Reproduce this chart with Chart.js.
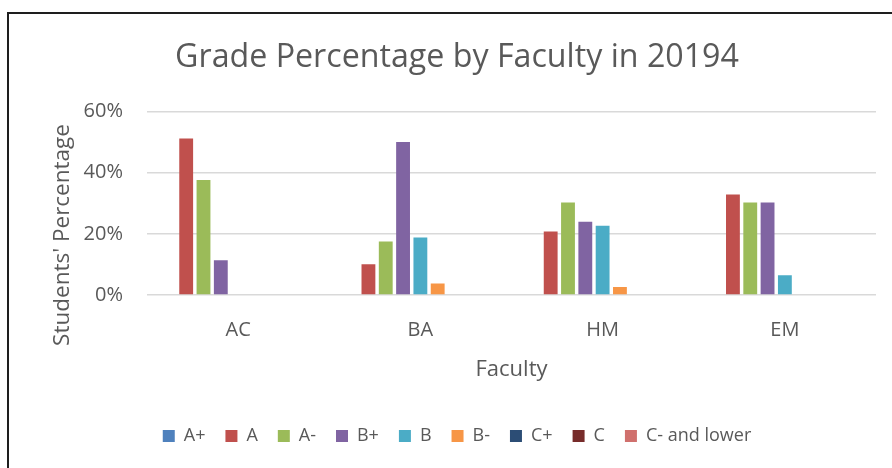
<!DOCTYPE html>
<html>
<head>
<meta charset="utf-8">
<script src="https://cdn.jsdelivr.net/npm/chart.js@4.4.0/dist/chart.umd.min.js"></script>
<style>
  html, body { margin: 0; padding: 0; background: #fff; overflow: hidden; }
  #page { position: relative; width: 892px; height: 468px; overflow: hidden; }
  #frame { position: absolute; left: 7px; top: 12px; width: 1000px; height: 600px;
           border-top: 2px solid #1e1e1e; border-left: 2px solid #1e1e1e; }
  #gradeChart { position: absolute; left: 9px; top: 14px; }
</style>
</head>
<body>
<div id="page">
  <div id="frame"></div>
  <canvas id="gradeChart" width="896" height="454"></canvas>
</div>
<script>
// data (percent of students)
const faculties = ['AC', 'BA', 'HM', 'EM'];
const grades = ['A+', 'A', 'A-', 'B+', 'B', 'B-', 'C+', 'C', 'C- and lower'];
const gradeColors = ['#4F81BD', '#C0504D', '#9BBB59', '#8064A2', '#4BACC6', '#F79646', '#2C4D75', '#772C2A', '#D0706D'];

const aPlus   = [0, 0, 0, 0];
const aGrade  = [51.2, 10.1, 20.8, 32.9];
const aMinus  = [37.6, 17.5, 30.3, 30.3];
const bPlus   = [11.4, 50.1, 24.0, 30.3];
const bGrade  = [0, 18.8, 22.7, 6.5];
const bMinus  = [0, 3.8, 2.6, 0];
const cPlus   = [0, 0, 0, 0];
const cGrade  = [0, 0, 0, 0];
const cMinus  = [0, 0, 0, 0];

const yTicks = [0, 20, 40, 60];

const seriesValues = [aPlus, aGrade, aMinus, bPlus, bGrade, bMinus, cPlus, cGrade, cMinus];

const textColor = '#595959';
const fontName = "'Open Sans', 'Noto Sans', sans-serif";

// y axis title drawn by hand so it sits where Excel puts it
const yTitlePlugin = {
    id: 'yTitle',
    afterDraw(chart) {
        const c = chart.ctx;
        c.save();
        c.translate(54, 221);
        c.rotate(-Math.PI / 2);
        c.fillStyle = textColor;
        c.font = '22.5px ' + fontName;
        c.textAlign = 'center';
        c.textBaseline = 'middle';
        c.fillText("Students' Percentage", 0, 0);
        c.restore();
    }
};

const ctx = document.getElementById('gradeChart').getContext('2d');

const gradeChart = new Chart(ctx, {
    type: 'bar',
    data: {
        labels: faculties,
        datasets: grades.map((g, i) => ({
            label: g,
            data: seriesValues[i],
            backgroundColor: gradeColors[i],
            borderWidth: 0,
            categoryPercentage: 0.855,
            barPercentage: 0.8
        }))
    },
    options: {
        responsive: false,
        animation: false,
        layout: { padding: { left: 29, right: 29, top: 0, bottom: 13 } },
        plugins: {
            tooltip: { enabled: false },
            title: {
                display: true,
                text: 'Grade Percentage by Faculty in 20194',
                color: textColor,
                font: { family: fontName, size: 32.2, weight: 'normal' },
                padding: { top: 25, bottom: 34 }
            },
            legend: {
                position: 'bottom',
                labels: {
                    color: textColor,
                    font: { family: fontName, size: 18 },
                    boxWidth: 12,
                    boxHeight: 12,
                    padding: 20
                }
            }
        },
        scales: {
            x: {
                grid: { display: false, drawTicks: false },
                border: { display: false },
                ticks: { color: textColor, font: { family: fontName, size: 20 }, padding: 23 },
                title: {
                    display: true,
                    text: 'Faculty',
                    color: textColor,
                    font: { family: fontName, size: 22 },
                    padding: { top: 0, bottom: 24 }
                },
                afterFit(scale) { scale.height = 112; }
            },
            y: {
                min: 0,
                max: 60,
                grid: { color: '#d9d9d9', lineWidth: 1.5, drawTicks: false },
                border: { display: false },
                afterBuildTicks(scale) { scale.ticks = yTicks.map(v => ({ value: v })); },
                ticks: {
                    color: textColor,
                    font: { family: fontName, size: 20 },
                    padding: 24,
                    callback: v => v + '%'
                },
                afterFit(scale) { scale.width = 109; }
            }
        }
    },
    plugins: [yTitlePlugin]
});
</script>
</body>
</html>
